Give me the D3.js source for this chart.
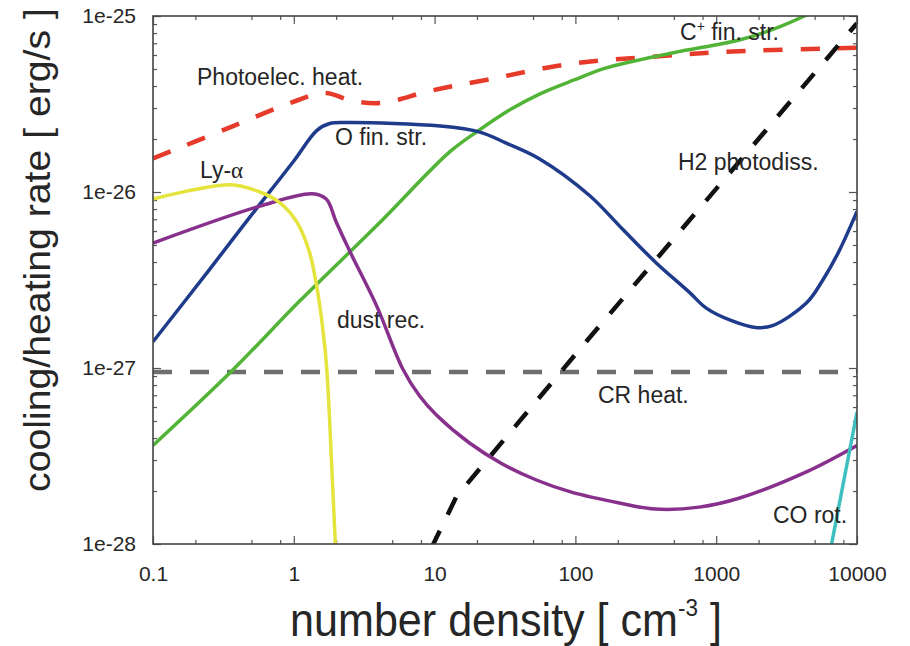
<!DOCTYPE html>
<html lang="en">
<head>
<meta charset="UTF-8">
<title>Cooling / heating rates</title>
<script src="https://cdnjs.cloudflare.com/ajax/libs/d3/7.8.5/d3.min.js"></script>
<style>
  body { margin: 0; background: #fff; }
  svg text { font-family: "Liberation Sans", Arial, sans-serif; fill: #262626; }
</style>
</head>
<body>
<svg width="910" height="646"></svg>
<script>
// [number density (cm^-3), rate (erg/s)]
const photoelecHeat = [[0.1,1.55e-26],[0.335,2.29e-26],[0.98,3.24e-26],[1.66,3.65e-26],[2.62,3.29e-26],
  [4.28,3.21e-26],[9.2,3.75e-26],[24.5,4.37e-26],[95,5.37e-26],[372,5.89e-26],[1450,6.31e-26],[10000,6.6e-26]];
const oFineStr = [[0.1,1.41e-27],[0.25,3.6e-27],[0.49,7.24e-27],[1.0,1.5e-26],[1.46,2.24e-26],[1.8,2.45e-26],
  [2.5,2.48e-26],[11,2.37e-26],[21,2.19e-26],[32,1.9e-26],[55,1.55e-26],[126,9.55e-27],[214,6.2e-27],[372,3.98e-27],
  [646,2.69e-27],[850,2.19e-27],[1300,1.85e-27],[1900,1.70e-27],[2510,1.74e-27],[4370,2.34e-27],[5620,3.09e-27],
  [7410,4.57e-27],[10000,7.76e-27]];
const cPlusFineStr = [[0.1,3.63e-28],[0.37,9.77e-28],[1.1,2.40e-27],[4.0,6.6e-27],[12.8,1.69e-26],[20.8,2.25e-26],
  [34,2.92e-26],[55.6,3.60e-26],[98,4.33e-26],[166,5.07e-26],[488,6.16e-26],[1456,7.31e-26],[2577,8.44e-26],
  [4345,1.01e-25],[8000,1.3e-25]];
const lyAlpha = [[0.1,9.12e-27],[0.355,1.10e-26],[0.575,1.0e-26],[0.794,8.71e-27],[1.05,6.76e-27],[1.29,4.57e-27],
  [1.45,2.95e-27],[1.62,1.58e-27],[1.72,9.55e-28],[1.86,2.75e-28],[2.0,7.9e-29]];
const dustRec = [[0.1,5.13e-27],[0.575,8.32e-27],[1.35,9.77e-27],[1.70,9.12e-27],[2.0,6.76e-27],[2.51,4.57e-27],
  [3.89,2.24e-27],[5.93,9.9e-28],[7.83,6.93e-28],[10.3,5.41e-28],[17.7,3.75e-28],[30.3,2.85e-28],[52.8,2.31e-28],
  [93.7,1.97e-28],[205,1.71e-28],[369,1.58e-28],[757,1.62e-28],[1450,1.82e-28],[4370,2.57e-28],[10000,3.63e-28]];
const crHeat = [[0.1,9.5e-28],[10000,9.5e-28]];
const h2Photodiss = [[9.5,9.5e-29],[14.3,1.86e-28],[112,1.33e-27],[10000,9.1e-26]];
const coRot = [[6600,1.0e-28],[10000,5.6e-28]];

const xTicks = [0.1, 1, 10, 100, 1000, 10000];
const xTickLabels = ["0.1", "1", "10", "100", "1000", "10000"];
const yTicks = [1e-28, 1e-27, 1e-26, 1e-25];
const yTickLabels = ["1e-28", "1e-27", "1e-26", "1e-25"];

const svg = d3.select("svg");
const pLeft = 153, pRight = 857, pTop = 16, pBottom = 544;

const x = d3.scaleLog().domain([0.1, 1e4]).range([pLeft, pRight]);
const y = d3.scaleLog().domain([1e-28, 1e-25]).range([pBottom, pTop]);

const xMinor = [];
[0.1, 1, 10, 100, 1000].forEach(d => [2, 5, 8].forEach(k => xMinor.push(d * k)));
const yMinor = [];
[1e-28, 1e-27, 1e-26].forEach(d => d3.range(2, 10).forEach(k => yMinor.push(d * k)));

function styleAxis(g) {
    g.select(".domain").remove();
    g.selectAll(".tick line").attr("stroke", "#555").attr("stroke-width", 1.2);
    g.selectAll("text").attr("font-family", "Liberation Sans, Arial, sans-serif")
        .attr("font-size", 21).attr("fill", "#262626");
}

// major + minor ticks on all four sides, pointing inwards
svg.append("g").attr("transform", `translate(0,${pBottom})`)
    .call(d3.axisBottom(x).tickValues(xTicks).tickSize(-8).tickPadding(22)
        .tickFormat((d, i) => xTickLabels[i])).call(styleAxis);
svg.append("g").attr("transform", `translate(0,${pBottom})`)
    .call(d3.axisBottom(x).tickValues(xMinor).tickSize(-4).tickFormat("")).call(styleAxis);
svg.append("g").attr("transform", `translate(0,${pTop})`)
    .call(d3.axisTop(x).tickValues(xTicks).tickSize(-8).tickFormat("")).call(styleAxis);
svg.append("g").attr("transform", `translate(0,${pTop})`)
    .call(d3.axisTop(x).tickValues(xMinor).tickSize(-4).tickFormat("")).call(styleAxis);

svg.append("g").attr("transform", `translate(${pLeft},0)`)
    .call(d3.axisLeft(y).tickValues(yTicks).tickSize(-8).tickPadding(17)
        .tickFormat((d, i) => yTickLabels[i])).call(styleAxis);
svg.append("g").attr("transform", `translate(${pLeft},0)`)
    .call(d3.axisLeft(y).tickValues(yMinor).tickSize(-4).tickFormat("")).call(styleAxis);
svg.append("g").attr("transform", `translate(${pRight},0)`)
    .call(d3.axisRight(y).tickValues(yTicks).tickSize(-8).tickFormat("")).call(styleAxis);
svg.append("g").attr("transform", `translate(${pRight},0)`)
    .call(d3.axisRight(y).tickValues(yMinor).tickSize(-4).tickFormat("")).call(styleAxis);

svg.append("clipPath").attr("id", "plot-clip")
    .append("rect").attr("x", pLeft).attr("y", pTop)
    .attr("width", pRight - pLeft).attr("height", pBottom - pTop);

const smooth = d3.line().x(d => x(d[0])).y(d => y(d[1])).curve(d3.curveCatmullRom.alpha(0.5));
const straight = d3.line().x(d => x(d[0])).y(d => y(d[1]));

const curves = [
    { data: crHeat, color: "#6e6e6e", width: 4.5, dash: "19,18", line: straight },
    { data: photoelecHeat, color: "#e63b2b", width: 4.5, dash: "19,18", line: smooth },
    { data: cPlusFineStr, color: "#52b437", width: 3.5, dash: null, line: smooth },
    { data: oFineStr, color: "#1f3b8b", width: 3.5, dash: null, line: smooth },
    { data: dustRec, color: "#87308c", width: 3.5, dash: null, line: smooth },
    { data: lyAlpha, color: "#e4e43c", width: 3.5, dash: null, line: smooth },
    { data: h2Photodiss, color: "#111111", width: 4.5, dash: "19,18", line: straight },
    { data: coRot, color: "#3ebfc0", width: 3.5, dash: null, line: straight }
];

const plot = svg.append("g").attr("clip-path", "url(#plot-clip)");
curves.forEach(c => {
    plot.append("path")
        .attr("d", c.line(c.data))
        .attr("fill", "none")
        .attr("stroke", c.color)
        .attr("stroke-width", c.width)
        .attr("stroke-dasharray", c.dash)
        .attr("stroke-linejoin", "round");
});

// frame
svg.append("rect").attr("x", pLeft).attr("y", pTop)
    .attr("width", pRight - pLeft).attr("height", pBottom - pTop)
    .attr("fill", "none").attr("stroke", "#444").attr("stroke-width", 1.6);

// curve labels
const labels = svg.append("g").attr("font-size", 23);
labels.append("text").attr("x", 197).attr("y", 85).text("Photoelec. heat.");
const ly = labels.append("text").attr("x", 200).attr("y", 178).text("Ly-");
ly.append("tspan").attr("font-family", "Liberation Serif, Times New Roman, serif").text("α");
labels.append("text").attr("x", 335).attr("y", 145).text("O fin. str.");
const cp = labels.append("text").attr("x", 680).attr("y", 40).text("C");
cp.append("tspan").attr("font-size", 14).attr("dy", -9).text("+");
cp.append("tspan").attr("dy", 9).text(" fin. str.");
labels.append("text").attr("x", 678).attr("y", 170).text("H2 photodiss.");
labels.append("text").attr("x", 337).attr("y", 328).text("dust rec.");
labels.append("text").attr("x", 598).attr("y", 403).text("CR heat.");
labels.append("text").attr("x", 773).attr("y", 523).text("CO rot.");

// axis titles, squeezed to the width they take in the figure
function fitTo(text, cx, cy, width, rotate) {
    const w = text.node().getBBox().width;
    const k = width / w;
    text.attr("transform", `translate(${cx},${cy}) rotate(${rotate}) scale(${k},1)`);
}

const xTitle = svg.append("text").attr("text-anchor", "middle").attr("font-size", 46)
    .attr("x", 0).attr("y", 0).text("number density [ cm");
xTitle.append("tspan").attr("font-size", 24).attr("dy", -20).text("-3");
xTitle.append("tspan").attr("dy", 20).text(" ]");
fitTo(xTitle, 506, 636, 432, 0);

const yTitle = svg.append("text").attr("text-anchor", "middle").attr("font-size", 37)
    .attr("x", 0).attr("y", 0).text("cooling/heating rate [ erg/s ]");
fitTo(yTitle, 50, 250, 484, -90);
</script>
</body>
</html>
